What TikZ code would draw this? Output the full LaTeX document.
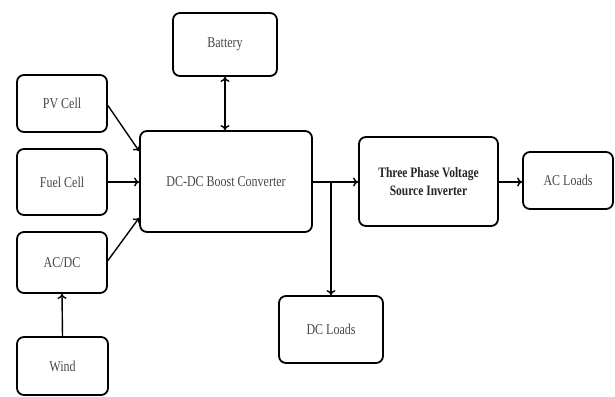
\documentclass[tikz,border=0pt]{standalone}
\usepackage{fontspec}
\setmainfont{Liberation Serif}
\usetikzlibrary{arrows.meta}
% text set narrow and tall
\newcommand{\tallt}[1]{\scalebox{1}[1.25]{#1}}
\begin{document}
\begin{tikzpicture}[x=1pt,y=-1pt,
  blk/.style={draw=black, line width=1.8pt, rounded corners=7pt, fill=white,
    inner sep=2pt, align=center, text=black!72, font=\fontsize{12}{14}\selectfont},
  link/.style={line width=1.4pt, -{To[length=5pt,width=9pt]}},
  both/.style={line width=1.4pt, {To[length=5pt,width=9pt]}-{To[length=5pt,width=9pt]}}]
  \useasboundingbox (0,0) rectangle (615,396);

  % sources
  \node[blk, minimum width=90pt, minimum height=57pt] (pv)   at (62,103.5) {\tallt{PV Cell}};
  \node[blk, minimum width=90pt, minimum height=66pt] (fuel) at (62,182)   {\tallt{Fuel Cell}};
  \node[blk, minimum width=90pt, minimum height=61pt] (acdc) at (62,262.5) {\tallt{AC/DC}};
  \node[blk, minimum width=91pt, minimum height=58pt] (wind) at (62.5,366) {\tallt{Wind}};
  \node[blk, minimum width=104pt, minimum height=63pt] (bat) at (225,44.5) {\tallt{Battery}};

  % conversion stages and loads
  \node[blk, minimum width=172pt, minimum height=101pt] (conv) at (226,181.5) {\tallt{DC-DC Boost Converter}};
  \node[blk, minimum width=139pt, minimum height=89pt, text=black!85,
        font=\bfseries\fontsize{11.5}{17.5}\selectfont] (inv) at (428.5,181.5)
    {\tallt{Three Phase Voltage}\\\tallt{Source Inverter}};
  \node[blk, minimum width=90pt, minimum height=57pt] (ac) at (568,180.5) {\tallt{AC Loads}};
  \node[blk, minimum width=104pt, minimum height=67pt] (dc) at (331,329.5) {\tallt{DC Loads}};

  % connectors
  \draw[link] ([yshift=-2pt]pv.east) -- ([yshift=-21pt]conv.north west);
  \draw[link] (fuel.east) -- (fuel.east -| conv.west);
  \draw[link] ([yshift=2pt]acdc.east) -- ([yshift=15pt]conv.south west);
  \draw[link] (wind.north) -- (acdc.south);
  \draw[both] (bat.south) -- (bat.south |- conv.north);
  \draw[link] (conv.east |- fuel.east) -- (inv.west |- fuel.east);
  \coordinate (tap) at (dc.north |- fuel.east);
  \draw[link] (tap) -- (dc.north);
  \draw[link] (inv.east |- fuel.east) -- (ac.west |- fuel.east);
\end{tikzpicture}
\end{document}
